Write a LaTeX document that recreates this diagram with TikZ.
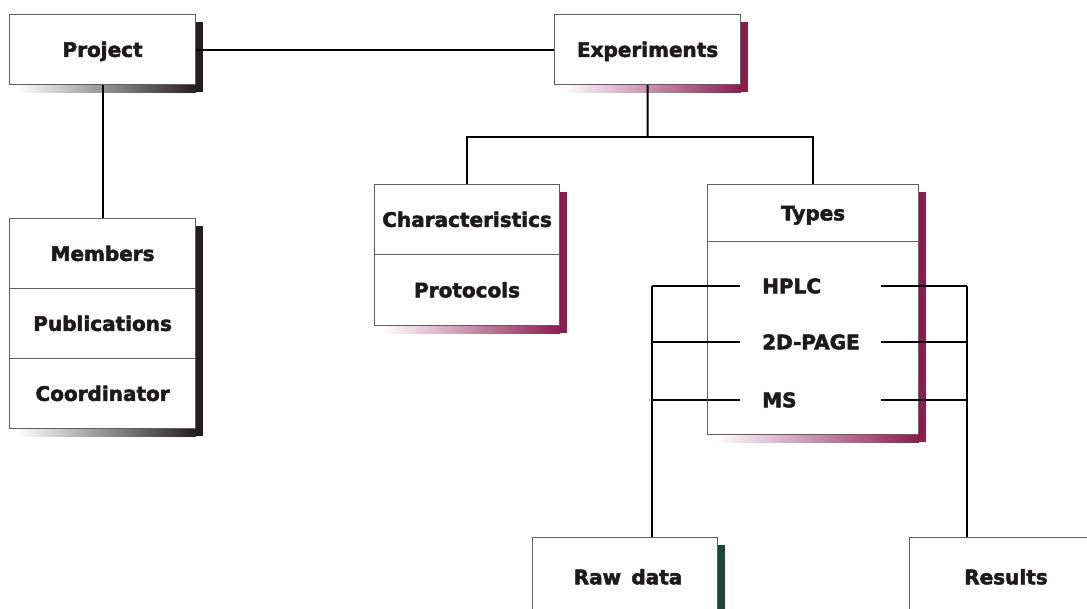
\documentclass[tikz,border=0pt]{standalone}
\usepackage{fontspec}
\setmainfont{DejaVu Sans}
\newfontfamily\heavy{DejaVu Sans Bold}[FakeBold=2.5]
\usetikzlibrary{calc,backgrounds}
\definecolor{shblack}{RGB}{35,31,32}
\definecolor{shmaroon}{RGB}{140,28,80}
\definecolor{shgreen}{RGB}{30,70,50}
\definecolor{boxgray}{RGB}{95,95,95}
\definecolor{txt}{RGB}{30,26,27}
\tikzset{
  cell/.style={draw=boxgray, line width=1.2pt, fill=white, anchor=north west,
    inner sep=0pt, font=\fontsize{20}{24}\selectfont\heavy, text=txt,
    text height=14.5pt, text depth=0pt},
  item/.style={anchor=west, inner xsep=22pt, inner ysep=0pt, text width=97pt, align=left,
    font=\fontsize{20}{24}\selectfont\heavy, text=txt, text height=14.5pt, text depth=0pt},
  label/.style={font=\fontsize{20}{24}\selectfont\heavy, text=txt, text height=14.5pt, text depth=0pt, inner sep=0pt},
  conn/.style={draw=black, line width=2pt},
}
\newcommand{\boxshadow}[3]{%
  \begin{scope}[on background layer]
    \fill[#3] ($(#2.south east)+(0,7)$) rectangle ($(#1.north east)+(7,8)$);
    \shade[left color=white, right color=#3] ($(#2.south west)+(8,0)$) rectangle ($(#2.south east)+(0,7)$);
  \end{scope}}
\begin{document}
\begin{tikzpicture}[x=1pt, y=-1pt]
\useasboundingbox (0,0) rectangle (1087,608);
\clip (0,0) rectangle (1087,608);
% boxes
\node[cell, minimum width=186pt, minimum height=70pt] (project) at (9,14) {Project};
\node[cell, minimum width=186pt, minimum height=70pt] (exp) at (554,14) {Experiments};
\node[cell, minimum width=186pt, minimum height=70pt] (members) at (9,218) {Members};
\node[cell, minimum width=186pt, minimum height=70pt] (pub) at (9,288) {Publications};
\node[cell, minimum width=186pt, minimum height=70pt] (coord) at (9,358) {Coordinator};
\node[cell, minimum width=185pt, minimum height=70pt] (char) at (374,184) {Characteristics};
\node[cell, minimum width=185pt, minimum height=71pt] (prot) at (374,254) {Protocols};
\node[cell, minimum width=211pt, minimum height=57pt] (types) at (707,184) {Types};
\node[cell, minimum width=211pt, minimum height=193pt] (typesbody) at (707,241) {};
\node[cell, minimum width=185pt, minimum height=90pt] (raw) at (532,537) {};
\node[label] (rawtext) at (628,577) {Raw\, data};
\node[cell, minimum width=186pt, minimum height=90pt] (results) at (909,537) {};
\node[label] (restext) at (1006,577) {Results};
% shadows
\boxshadow{project}{project}{shblack}
\boxshadow{exp}{exp}{shmaroon}
\boxshadow{members}{coord}{shblack}
\boxshadow{char}{prot}{shmaroon}
\boxshadow{types}{typesbody}{shmaroon}
\boxshadow{raw}{raw}{shgreen}
% items
\node[item] (hplc) at (740,286) {HPLC};
\node[item] (page) at (740,342) {\mbox{2D-PAGE}};
\node[item] (ms) at (740,400) {MS};
\coordinate (lbus) at (652,0);
\coordinate (rbus) at (967,0);
% connectors
\draw[conn] (project.east) -- (exp.west);
\draw[conn] (project.south) -- (members.north);
\coordinate (ebus) at ($(exp.south)!0.52!(exp.south |- char.north)$);
\draw[conn] (exp.south) -- (ebus);
\draw[conn] (char.north) |- (ebus) -| (types.north);
\foreach \n in {hplc,page,ms}{
  \draw[conn] (\n.west) -- (\n.west -| lbus);
  \draw[conn] (\n.east) -- (\n.east -| rbus);
}
\draw[conn] (hplc.west -| lbus) -- (raw.north -| lbus);
\draw[conn] (hplc.east -| rbus) -- (results.north -| rbus);
\end{tikzpicture}
\end{document}
